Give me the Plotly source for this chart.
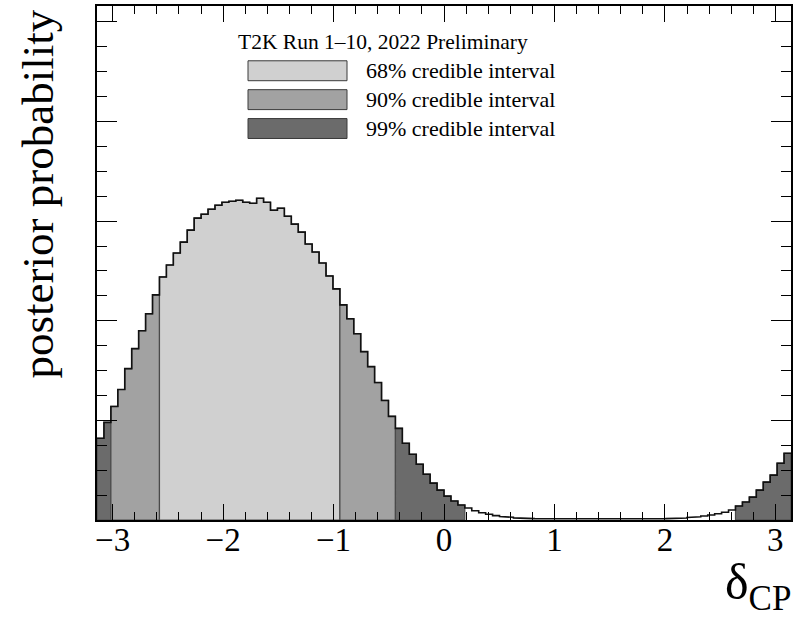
import numpy as np
import plotly.graph_objects as go

# ---------------- data ----------------
n_bins = 100
x_min, x_max = -np.pi, np.pi
# posterior probability per bin (arbitrary units)
posterior = [
    82, 98, 114, 131, 152, 172, 190, 207, 226, 244,
    256, 268, 279, 291, 303, 307, 312, 316, 319, 320,
    321, 319, 318, 323, 319, 311, 313, 305, 297, 289,
    277, 269, 258, 245, 232, 216, 202, 187, 169, 154,
    138, 120, 104, 92, 77, 66, 56, 46, 37, 30,
    24, 19, 15, 12, 9.3, 7.3, 5.7, 4.4, 3.4, 2.7,
    2.1, 1.7, 1.4, 1.2, 1.0, 0.9, 0.8, 0.7, 0.7, 0.6,
    0.6, 0.6, 0.6, 0.6, 0.6, 0.6, 0.7, 0.7, 0.8, 0.9,
    1.0, 1.2, 1.4, 1.7, 2.0, 2.6, 3.2, 4.0, 5.0, 6.2,
    7.8, 10, 14, 18, 23, 30, 38, 45, 57, 67,
]
# credible-interval regions: (first bin, last bin exclusive, level)
regions = [
    (0, 2, "99"), (2, 9, "90"), (9, 35, "68"), (35, 43, "90"),
    (43, 53, "99"), (92, 100, "99"),
]
legend_levels = ["68", "90", "99"]
legend_labels = ["68% credible interval", "90% credible interval", "99% credible interval"]
legend_header = "T2K Run 1–10, 2022 Preliminary"
x_ticks = [-3, -2, -1, 0, 1, 2, 3]

# ---------------- style ----------------
fills = {"68": "#d0d0d0", "90": "#a2a2a2", "99": "#6b6b6b"}
FONT = "Liberation Serif, Times New Roman, serif"

edges = np.linspace(x_min, x_max, n_bins + 1)
h = np.asarray(posterior, dtype=float)

fig = go.Figure()

for a, b, lvl in regions:
    xs = [edges[a]]
    ys = [0.0]
    for i in range(a, b):
        xs += [edges[i], edges[i + 1]]
        ys += [h[i], h[i]]
    xs += [edges[b], edges[a]]
    ys += [0.0, 0.0]
    fig.add_trace(go.Scatter(
        x=xs, y=ys, mode="lines", fill="toself", fillcolor=fills[lvl],
        line=dict(color="#4a4a4a", width=1.2), hoverinfo="skip", showlegend=False,
    ))

# overall histogram outline
ox, oy = [], []
for i in range(n_bins):
    ox += [edges[i], edges[i + 1]]
    oy += [h[i], h[i]]
fig.add_trace(go.Scatter(
    x=ox, y=oy, mode="lines", line=dict(color="#111111", width=1.6),
    hoverinfo="skip", showlegend=False,
))

# ---------------- layout ----------------
W, H = 800, 623
L, R, T, B = 97, 9, 4, 103
pw, ph = W - L - R, H - T - B


def px_x(px):
    return (px - L) / pw


def px_y(py):
    return (H - B - py) / ph


shapes = []
annotations = []
box_tops = [59, 88, 117]
for lvl, lab, top in zip(legend_levels, legend_labels, box_tops):
    shapes.append(dict(
        type="rect", xref="paper", yref="paper",
        x0=px_x(248), x1=px_x(347), y0=px_y(top + 20), y1=px_y(top),
        fillcolor=fills[lvl], line=dict(color="#3a3a3a", width=1),
    ))
    annotations.append(dict(
        text=lab, xref="paper", yref="paper", x=px_x(364), y=px_y(top + 10),
        xanchor="left", yanchor="middle", showarrow=False,
        font=dict(family=FONT, size=22, color="black"),
    ))
annotations.append(dict(
    text=legend_header, xref="paper", yref="paper", x=px_x(383), y=px_y(40),
    xanchor="center", yanchor="middle", showarrow=False,
    font=dict(family=FONT, size=21.5, color="black"),
))
annotations.append(dict(
    text="posterior probability", xref="paper", yref="paper",
    x=px_x(38), y=px_y(6), xanchor="center", yanchor="top", textangle=-90,
    showarrow=False, font=dict(family=FONT, size=45, color="black"),
))
annotations.append(dict(
    text="δ<sub>CP</sub>", xref="paper", yref="paper",
    x=px_x(793), y=px_y(620), xanchor="right", yanchor="bottom",
    showarrow=False, font=dict(family=FONT, size=50, color="black"),
))

fig.update_layout(
    width=W, height=H,
    margin=dict(l=L, r=R, t=T, b=B),
    paper_bgcolor="white", plot_bgcolor="white",
    showlegend=False,
    shapes=shapes, annotations=annotations,
    xaxis=dict(
        range=[x_min, x_max], tickvals=x_ticks,
        ticks="inside", ticklen=16, tickwidth=1.3, tickcolor="black",
        minor=dict(dtick=0.2, tick0=0, ticks="inside", ticklen=8, tickwidth=1.3, tickcolor="black"),
        showline=True, linewidth=2, linecolor="black", mirror="allticks",
        showgrid=False, zeroline=False,
        tickfont=dict(family=FONT, size=33, color="black"),
        ticklabelstandoff=-11,
    ),
    yaxis=dict(
        range=[0, ph], dtick=100, tick0=0,
        ticks="inside", ticklen=20, tickwidth=1.3, tickcolor="black",
        minor=dict(dtick=25, tick0=0, ticks="inside", ticklen=10, tickwidth=1.3, tickcolor="black"),
        showline=True, linewidth=2, linecolor="black", mirror="allticks",
        showgrid=False, zeroline=False, showticklabels=False,
    ),
)

fig.write_html("out.html")
